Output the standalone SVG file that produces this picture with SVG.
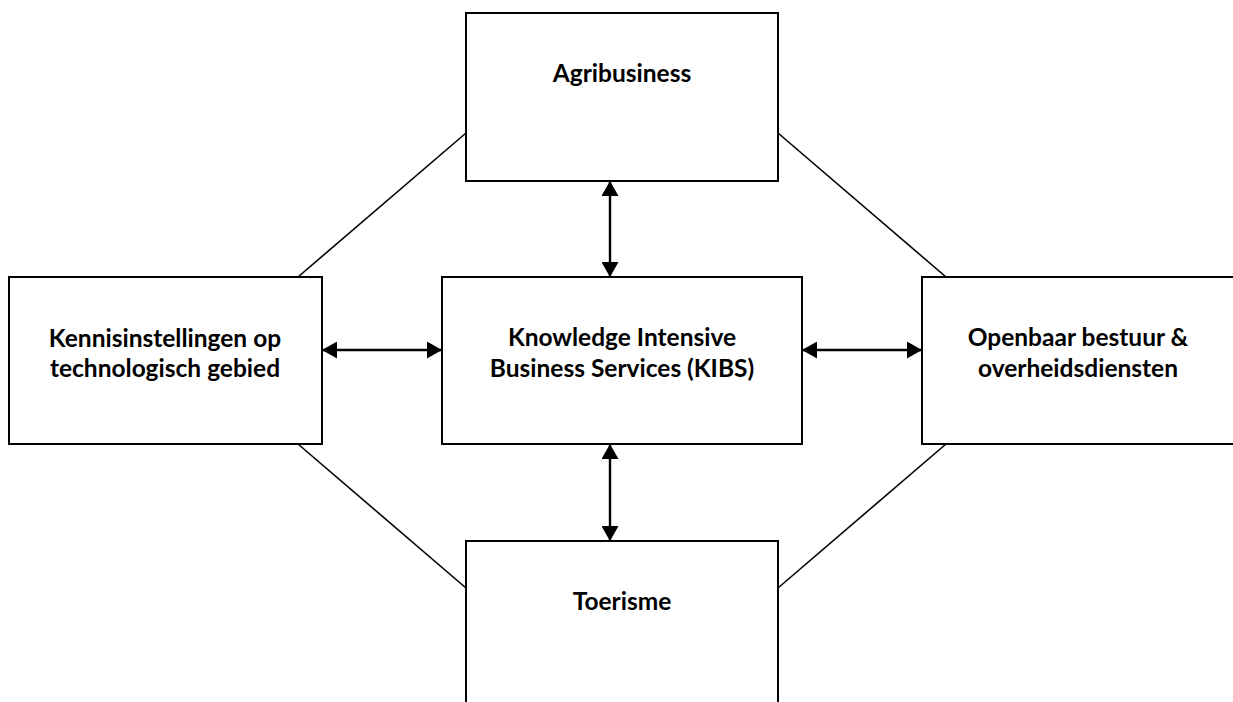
<svg xmlns="http://www.w3.org/2000/svg" width="1233" height="702" viewBox="0 0 1233 702">
  <style>
    .box { fill: #ffffff; stroke: #000000; stroke-width: 2; }
    .label { font-family: "Lato", "Liberation Sans", sans-serif; font-weight: bold; font-size: 24.5px; fill: #000000; text-anchor: middle; }
    .link { stroke: #000000; stroke-width: 1.6; fill: none; }
    .arrow { stroke: #000000; stroke-width: 2.4; fill: none; marker-start: url(#head); marker-end: url(#head); }
  </style>
  <defs>
    <marker id="head" markerUnits="userSpaceOnUse" markerWidth="16" markerHeight="17" refX="15" refY="8.5" orient="auto-start-reverse">
      <path d="M0,0 L15,8.5 L0,17 Z" fill="#000000"/>
    </marker>
  </defs>
  <rect width="1233" height="702" fill="#ffffff"/>

  <!-- connectors -->
  <g id="connectors">
    <line class="link" x1="298" y1="277" x2="466" y2="133"/>
    <line class="link" x1="778" y1="133" x2="946" y2="277"/>
    <line class="link" x1="298" y1="444" x2="466" y2="588"/>
    <line class="link" x1="778" y1="588" x2="946" y2="444"/>
    <line class="arrow" x1="610" y1="181" x2="610" y2="277"/>
    <line class="arrow" x1="610" y1="444" x2="610" y2="541"/>
    <line class="arrow" x1="322" y1="350" x2="442" y2="350"/>
    <line class="arrow" x1="802" y1="350" x2="922" y2="350"/>
  </g>

  <g id="agribusiness">
    <rect class="box" x="466" y="13" width="312" height="168"/>
    <text class="label" x="622" y="82">Agribusiness</text>
  </g>

  <g id="kennisinstellingen">
    <rect class="box" x="9" y="277" width="313" height="167"/>
    <text class="label" x="165" y="347">Kennisinstellingen op</text>
    <text class="label" x="165" y="377">technologisch gebied</text>
  </g>

  <g id="kibs">
    <rect class="box" x="442" y="277" width="360" height="167"/>
    <text class="label" x="622" y="346">Knowledge Intensive</text>
    <text class="label" x="622" y="377">Business Services (KIBS)</text>
  </g>

  <g id="openbaar-bestuur">
    <rect class="box" x="922" y="277" width="313" height="167"/>
    <text class="label" x="1078" y="346">Openbaar bestuur &amp;</text>
    <text class="label" x="1078" y="377">overheidsdiensten</text>
  </g>

  <g id="toerisme">
    <rect class="box" x="466" y="541" width="312" height="170"/>
    <text class="label" x="622" y="610">Toerisme</text>
  </g>
</svg>
